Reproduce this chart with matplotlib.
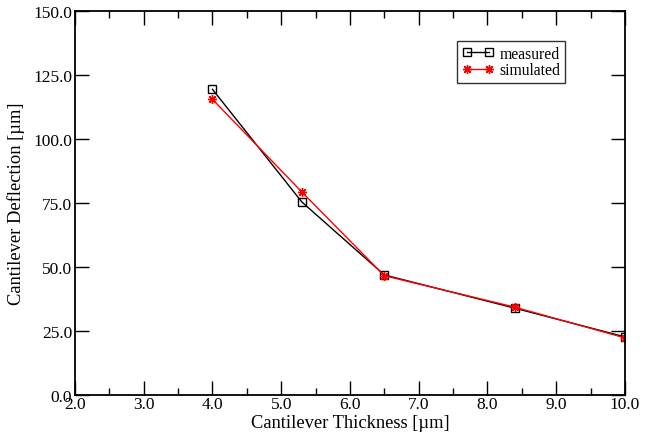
import matplotlib
matplotlib.use("Agg")
import matplotlib.pyplot as plt
from matplotlib.ticker import MultipleLocator, FormatStrFormatter

thickness = [4.0, 5.3, 6.5, 8.4, 10.0]
measured = [119.4, 75.4, 46.9, 33.9, 22.7]
simulated = [115.5, 79.3, 46.6, 34.3, 22.3]

plt.rcParams["font.family"] = ["Liberation Serif", "DejaVu Serif"]

fig = plt.figure(figsize=(6.55, 4.39), dpi=100)
ax = fig.add_axes([0.1145, 0.098, 0.8395, 0.8747])

ax.plot(thickness, measured, color="black", lw=1.0, marker="s", ms=6,
        mfc="none", mec="black", mew=1.0, label="measured")
ax.plot(thickness, simulated, color="red", lw=1.0, marker=(8, 2, 0), ms=6.5,
        mec="red", mew=1.0, label="simulated")

ax.set_xlim(2.0, 10.0)
ax.set_ylim(0.0, 150.0)
ax.xaxis.set_major_locator(MultipleLocator(1.0))
ax.xaxis.set_minor_locator(MultipleLocator(0.5))
ax.yaxis.set_major_locator(MultipleLocator(25.0))
ax.xaxis.set_major_formatter(FormatStrFormatter("%.1f"))
ax.yaxis.set_major_formatter(FormatStrFormatter("%.1f"))
ax.tick_params(which="both", direction="in", top=True, right=True,
               labelsize=12.5, width=1.0)
ax.tick_params(axis="x", pad=1)
ax.tick_params(axis="y", pad=2)
ax.tick_params(which="major", length=10)
ax.tick_params(which="minor", length=5)
for s in ax.spines.values():
    s.set_linewidth(1.3)

ax.set_xlabel("Cantilever Thickness [\u00b5m]", fontsize=13.3, labelpad=1)
ax.set_ylabel("Cantilever Deflection [\u00b5m]", fontsize=13.3, labelpad=6)

leg = ax.legend(loc="upper right", bbox_to_anchor=(0.892, 0.922), fontsize=11.3,
                numpoints=2, handlelength=2.0, frameon=True, fancybox=False,
                borderpad=0.3, labelspacing=0.05, handletextpad=0.4,
                borderaxespad=0)
leg.get_frame().set_edgecolor("black")
leg.get_frame().set_linewidth(1.0)

fig.savefig("out.png", dpi=100)
